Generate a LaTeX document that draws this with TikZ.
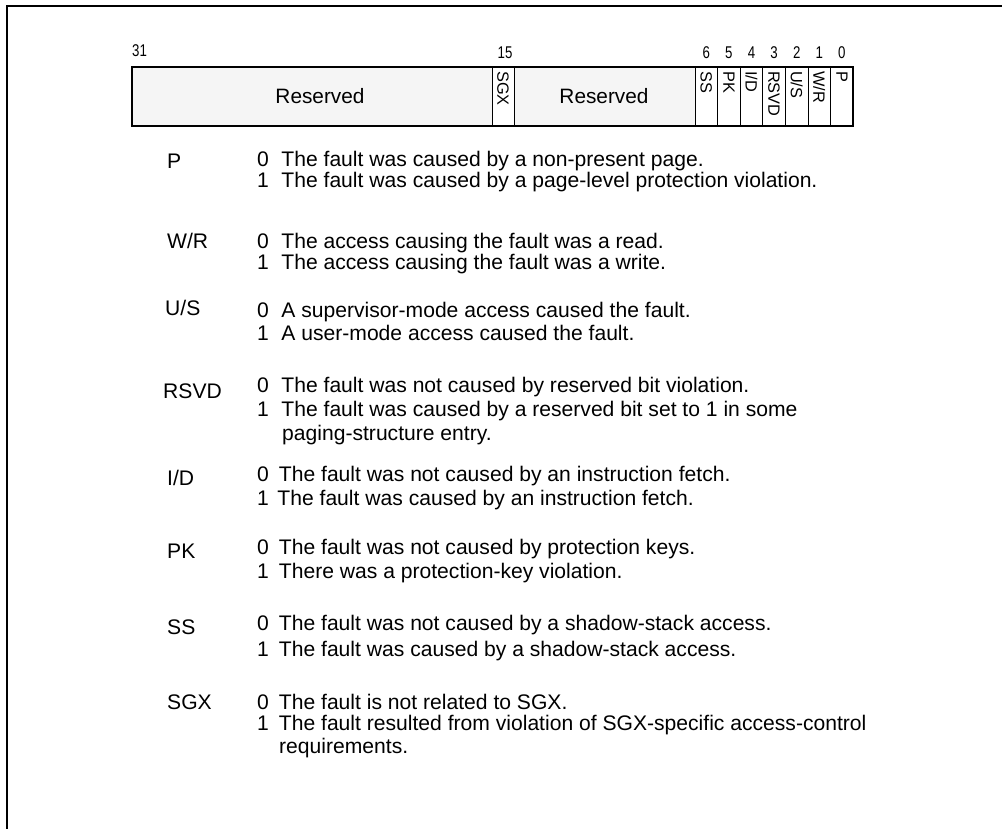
\documentclass[tikz,border=0pt]{standalone}
\usepackage{fontspec}
\setmainfont{Liberation Sans}
\newfontfamily\narrowfont[FakeStretch=0.78]{Liberation Sans}
\definecolor{resgray}{HTML}{F5F5F5}

\begin{document}
\begin{tikzpicture}[x=1pt, y=-1pt,
  desc/.style={anchor=west, inner sep=0, font=\fontsize{21.1}{22}\selectfont},
  bitno/.style={inner sep=0, font=\narrowfont\fontsize{17}{18}\selectfont},
  vlbl/.style={rotate=-90, anchor=west, inner sep=0, font=\fontsize{16.3}{17}\selectfont}]
\useasboundingbox (0,0) rectangle (1002,829);
\draw[line width=1.5] (7,829) -- (7,6) -- (1002,6);

% register layout
\fill[resgray] (132,67) rectangle (492,126);
\fill[resgray] (514,67) rectangle (695,126);
\foreach \x  in  {492, 514, 695, 717.6, 740.1, 762.7, 785.3, 807.9, 830.4} {
 \draw[line width=.8] (\x,67) --++(0,59);
}
\draw[line width=1.8] (132,67) rectangle (853,126);
\node[desc, anchor=center, font=\fontsize{20.8}{22}\selectfont] (res1) at (320,96) {Reserved};
\node[desc, anchor=center, font=\fontsize{20.8}{22}\selectfont] (res2) at (604,96) {Reserved};
\node[vlbl] (sgx) at (503,71) {SGX};
\foreach \lbl [count=\i] in {SS, PK, I/D, RSVD, U/S, W/R, P} {
 \node[vlbl] (cell\i) at (695+22.6*\i-11.3,71) {\lbl};
 \pgfmathtruncatemacro{\b}{7-\i}
 \node[bitno] (bit\i) at (695+22.6*\i-11.3,53) {\b};
}
\node[bitno, anchor=west] (bit31) at (132,51) {31};
\node[bitno] (bit15) at (505,53) {15};

% flag descriptions
\node[desc] (fp) at (167,161) {P};
\node[desc] (fp0) at (257,161) {0\hspace{12.5pt}The fault was caused by a non-present page.};
\node[desc] (fp1) at (257,182) {1\hspace{12.5pt}The fault was caused by a page-level protection violation.};

\node[desc] (fwr) at (167,241) {W/R};
\node[desc] (fwr0) at (257,243) {0\hspace{12.5pt}The access causing the fault was a read.};
\node[desc] (fwr1) at (257,264) {1\hspace{12.5pt}The access causing the fault was a write.};

\node[desc] (fus) at (165,308) {U/S};
\node[desc] (fus0) at (257,312) {0\hspace{12.5pt}A supervisor-mode access caused the fault.};
\node[desc] (fus1) at (257,333) {1\hspace{12.5pt}A user-mode access caused the fault.};

\node[desc] (frsvd) at (163,391) {RSVD};
\node[desc] (frsvd0) at (257,387) {0\hspace{12.5pt}The fault was not caused by reserved bit violation.};
\node[desc] (frsvd1) at (257,411) {1\hspace{12.5pt}The fault was caused by a reserved bit set to 1 in some};
\node[desc] (frsvd2) at (282,435) {paging-structure entry.};

\node[desc] (fid) at (167,478) {I/D};
\node[desc] (fid0) at (257,476) {0\hspace{10pt}The fault was not caused by an instruction fetch.};
\node[desc] (fid1) at (257,500) {1\hspace{8.5pt}The fault was caused by an instruction fetch.};

\node[desc] (fpk) at (167,551) {PK};
\node[desc] (fpk0) at (257,549) {0\hspace{10pt}The fault was not caused by protection keys.};
\node[desc] (fpk1) at (257,573) {1\hspace{10pt}There was a protection-key violation.};

\node[desc] (fss) at (167,627) {SS};
\node[desc] (fss0) at (257,625) {0\hspace{10pt}The fault was not caused by a shadow-stack access.};
\node[desc] (fss1) at (257,651) {1\hspace{10pt}The fault was caused by a shadow-stack access.};

\node[desc] (fsgx) at (167,702) {SGX};
\node[desc] (fsgx0) at (257,702) {0\hspace{10pt}The fault is not related to SGX.};
\node[desc] (fsgx1) at (257,725) {1\hspace{10pt}The fault resulted from violation of SGX-specific access-control};
\node[desc] (fsgx2) at (279,748) {requirements.};
\end{tikzpicture}
\end{document}
